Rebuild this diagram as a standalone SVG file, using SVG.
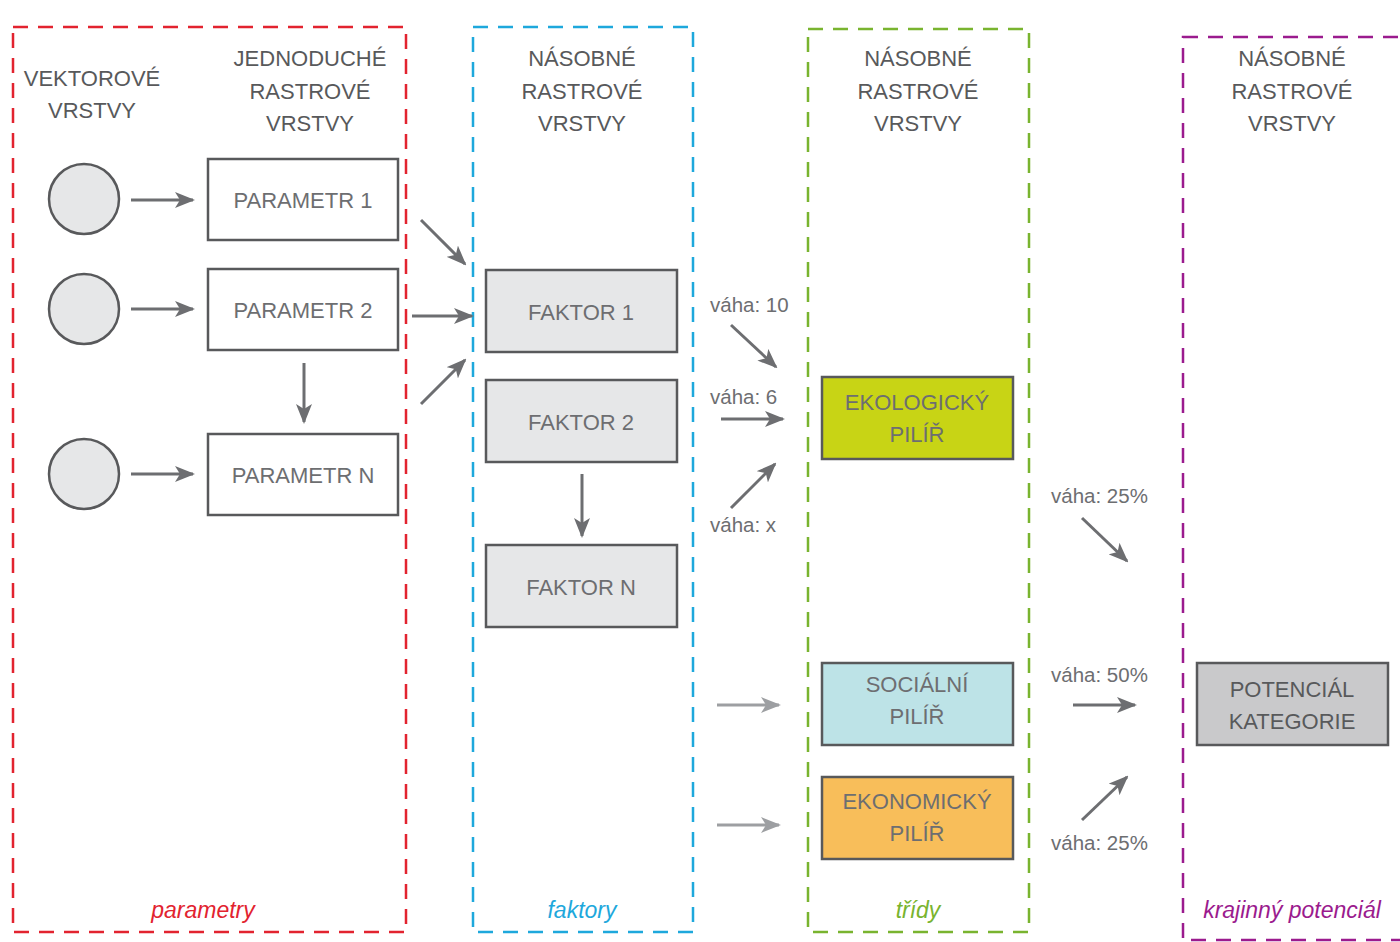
<svg xmlns="http://www.w3.org/2000/svg" width="1400" height="942" viewBox="0 0 1400 942">
<style>
.frame{fill:none;stroke-width:2.5;stroke-dasharray:15 10}
.hdr{font-family:"Liberation Sans",Arial,sans-serif;font-size:22px;fill:#58595b;text-anchor:middle}
.lbl{font-family:"Liberation Sans",Arial,sans-serif;font-size:22px;fill:#6d6e71;text-anchor:middle}
.w{font-family:"Liberation Sans",Arial,sans-serif;font-size:20.5px;fill:#6d6e71}
.ft{font-family:"Liberation Sans",Arial,sans-serif;font-size:23px;font-style:italic;text-anchor:middle}
.box{stroke:#58595b;stroke-width:2.5}
.arr{stroke:#6d6e71;stroke-width:3;fill:none;marker-end:url(#ah)}
.arrl{stroke:#9d9fa2;stroke-width:3;fill:none;marker-end:url(#ahl)}
</style>
<defs>
<marker id="ah" markerUnits="userSpaceOnUse" markerWidth="20" markerHeight="16" refX="18" refY="8" orient="auto"><path d="M0,0 L20,8 L0,16 L5,8 Z" fill="#6d6e71"/></marker>
<marker id="ahl" markerUnits="userSpaceOnUse" markerWidth="20" markerHeight="16" refX="18" refY="8" orient="auto"><path d="M0,0 L20,8 L0,16 L5,8 Z" fill="#9d9fa2"/></marker>
</defs>
<rect width="1400" height="942" fill="#fff"/>
<g id="frames">
<rect class="frame" x="13" y="27" width="393" height="905" stroke="#e2232f"/>
<rect class="frame" x="473" y="27" width="220" height="905" stroke="#1ea8dc"/>
<rect class="frame" x="808" y="29" width="221" height="903" stroke="#79b42f"/>
<rect class="frame" x="1183" y="37" width="260" height="903" stroke="#9b1b8e"/>
</g>
<g id="headers">
<text class="hdr" x="92" y="86">VEKTOROVÉ</text>
<text class="hdr" x="92" y="118">VRSTVY</text>
<text class="hdr" x="310" y="66">JEDNODUCHÉ</text>
<text class="hdr" x="310" y="99">RASTROVÉ</text>
<text class="hdr" x="310" y="131">VRSTVY</text>
<text class="hdr" x="582" y="66">NÁSOBNÉ</text>
<text class="hdr" x="582" y="99">RASTROVÉ</text>
<text class="hdr" x="582" y="131">VRSTVY</text>
<text class="hdr" x="918" y="66">NÁSOBNÉ</text>
<text class="hdr" x="918" y="99">RASTROVÉ</text>
<text class="hdr" x="918" y="131">VRSTVY</text>
<text class="hdr" x="1292" y="66">NÁSOBNÉ</text>
<text class="hdr" x="1292" y="99">RASTROVÉ</text>
<text class="hdr" x="1292" y="131">VRSTVY</text>
</g>
<g id="footers">
<text class="ft" x="203" y="918" fill="#e2232f">parametry</text>
<text class="ft" x="582" y="918" fill="#1ea8dc">faktory</text>
<text class="ft" x="918" y="918" fill="#79b42f">třídy</text>
<text class="ft" x="1292" y="918" fill="#9b1b8e">krajinný potenciál</text>
</g>
<g id="v1"><circle class="box" cx="84" cy="199" r="35" fill="#e6e7e8"/></g>
<g id="v2"><circle class="box" cx="84" cy="309" r="35" fill="#e6e7e8"/></g>
<g id="v3"><circle class="box" cx="84" cy="474" r="35" fill="#e6e7e8"/></g>
<g id="p1"><rect class="box" x="208" y="159" width="190" height="81" fill="#fff"/><text class="lbl" x="303" y="208">PARAMETR 1</text></g>
<g id="p2"><rect class="box" x="208" y="269" width="190" height="81" fill="#fff"/><text class="lbl" x="303" y="318">PARAMETR 2</text></g>
<g id="pn"><rect class="box" x="208" y="434" width="190" height="81" fill="#fff"/><text class="lbl" x="303" y="483">PARAMETR N</text></g>
<g id="f1"><rect class="box" x="486" y="270" width="191" height="82" fill="#e6e7e8"/><text class="lbl" x="581" y="320">FAKTOR 1</text></g>
<g id="f2"><rect class="box" x="486" y="380" width="191" height="82" fill="#e6e7e8"/><text class="lbl" x="581" y="430">FAKTOR 2</text></g>
<g id="fn"><rect class="box" x="486" y="545" width="191" height="82" fill="#e6e7e8"/><text class="lbl" x="581" y="595">FAKTOR N</text></g>
<g id="eko"><rect class="box" x="822" y="377" width="191" height="82" fill="#c8d415"/><text class="lbl" x="917" y="410">EKOLOGICKÝ</text><text class="lbl" x="917" y="442">PILÍŘ</text></g>
<g id="soc"><rect class="box" x="822" y="663" width="191" height="82" fill="#bde3e7"/><text class="lbl" x="917" y="692">SOCIÁLNÍ</text><text class="lbl" x="917" y="724">PILÍŘ</text></g>
<g id="ekon"><rect class="box" x="822" y="777" width="191" height="82" fill="#f8be5a"/><text class="lbl" x="917" y="809">EKONOMICKÝ</text><text class="lbl" x="917" y="841">PILÍŘ</text></g>
<g id="pot"><rect class="box" x="1197" y="663" width="191" height="82" fill="#c9c9cb"/><text class="hdr" x="1292" y="697">POTENCIÁL</text><text class="hdr" x="1292" y="729">KATEGORIE</text></g>
<g id="connectors">
<line class="arr" x1="131" y1="200" x2="193" y2="200"/>
<line class="arr" x1="131" y1="309" x2="193" y2="309"/>
<line class="arr" x1="131" y1="474" x2="193" y2="474"/>
<line class="arr" x1="304" y1="363" x2="304" y2="422"/>
<line class="arr" x1="421" y1="220" x2="465" y2="264"/>
<line class="arr" x1="412" y1="316" x2="472" y2="316"/>
<line class="arr" x1="421" y1="404" x2="465" y2="360"/>
<line class="arr" x1="582" y1="474" x2="582" y2="536"/>
<line class="arr" x1="731" y1="325" x2="776" y2="367"/>
<line class="arr" x1="721" y1="419" x2="783" y2="419"/>
<line class="arr" x1="731" y1="508" x2="775" y2="464"/>
<line class="arrl" x1="717" y1="705" x2="779" y2="705"/>
<line class="arrl" x1="717" y1="825" x2="779" y2="825"/>
<line class="arr" x1="1082" y1="518" x2="1127" y2="561"/>
<line class="arr" x1="1073" y1="705" x2="1135" y2="705"/>
<line class="arr" x1="1082" y1="820" x2="1127" y2="777"/>
</g>
<g id="weights">
<text class="w" x="710" y="312">váha: 10</text>
<text class="w" x="710" y="404">váha: 6</text>
<text class="w" x="710" y="532">váha: x</text>
<text class="w" x="1051" y="503">váha: 25%</text>
<text class="w" x="1051" y="682">váha: 50%</text>
<text class="w" x="1051" y="850">váha: 25%</text>
</g>
</svg>
